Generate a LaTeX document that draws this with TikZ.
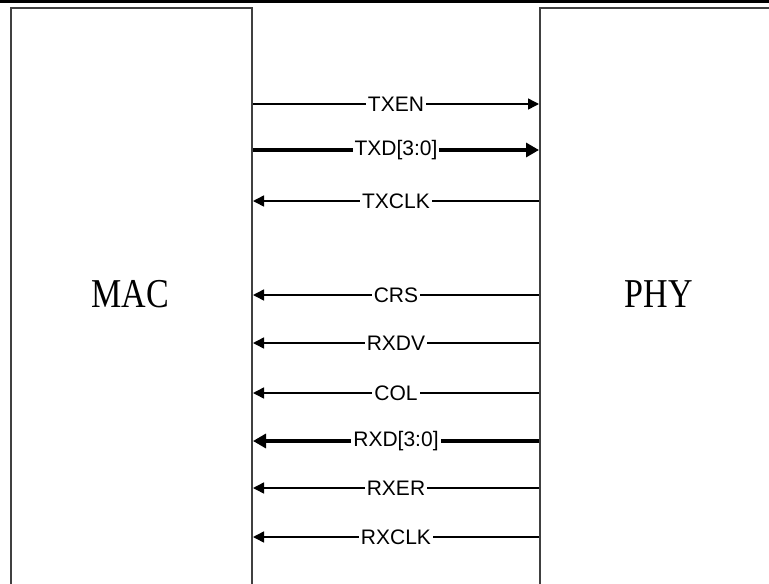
\documentclass[tikz,border=0pt]{standalone}
\usepackage{fontspec}
\setmainfont{Liberation Serif}
\setsansfont{Liberation Sans}
\usetikzlibrary{arrows.meta}
\tikzset{
  blockbox/.style={draw=black!75, line width=2pt, fill=none, anchor=north west, inner sep=0pt},
  blocktext/.style={font=\fontsize{41}{41}\selectfont, inner sep=0pt},
  sigthin/.style={line width=1.5pt, draw=black},
  sigthick/.style={line width=3.2pt, draw=black},
  tipthin/.style={-{Triangle[length=11pt,width=11pt]}},
  tipthick/.style={-{Triangle[length=13pt,width=14pt]}},
  siglabel/.style={midway, fill=white, inner sep=2pt, font=\sffamily\fontsize{21}{21}\selectfont}
}
\begin{document}
\begin{tikzpicture}[x=1pt,y=-1pt]
\useasboundingbox (0,0) rectangle (769,584);
\clip (0,0) rectangle (769,584);
\fill[black] (0,-1) rectangle (769,3);
\node[blockbox, minimum width=241pt, minimum height=620pt] (mac) at (10,7) {};
\node[blockbox, minimum width=300pt, minimum height=620pt] (phy) at (539,7) {};
\node[blocktext] (mactext) at (130,294) {\scalebox{0.83}[1]{MAC}};
\node[blocktext] (phytext) at (659,294) {\scalebox{0.83}[1]{PHY}};
% edge coordinates
\foreach \n/\y in {1/104,2/150,3/201,4/295,5/343,6/393,7/441,8/488,9/537}{
  \coordinate (m\n) at (mac.east |- 0,\y);
  \coordinate (p\n) at (phy.west |- 0,\y);
}
\draw[sigthin, tipthin] (m1) -- node[siglabel]{TXEN} (p1);
\draw[sigthick, tipthick] (m2) -- node[siglabel]{TXD[3:0]} (p2);
\draw[sigthin, tipthin] (p3) -- node[siglabel]{TXCLK} (m3);
\draw[sigthin, tipthin] (p4) -- node[siglabel]{CRS} (m4);
\draw[sigthin, tipthin] (p5) -- node[siglabel]{RXDV} (m5);
\draw[sigthin, tipthin] (p6) -- node[siglabel]{COL} (m6);
\draw[sigthick, tipthick] (p7) -- node[siglabel]{RXD[3:0]} (m7);
\draw[sigthin, tipthin] (p8) -- node[siglabel]{RXER} (m8);
\draw[sigthin, tipthin] (p9) -- node[siglabel]{RXCLK} (m9);
\end{tikzpicture}
\end{document}
